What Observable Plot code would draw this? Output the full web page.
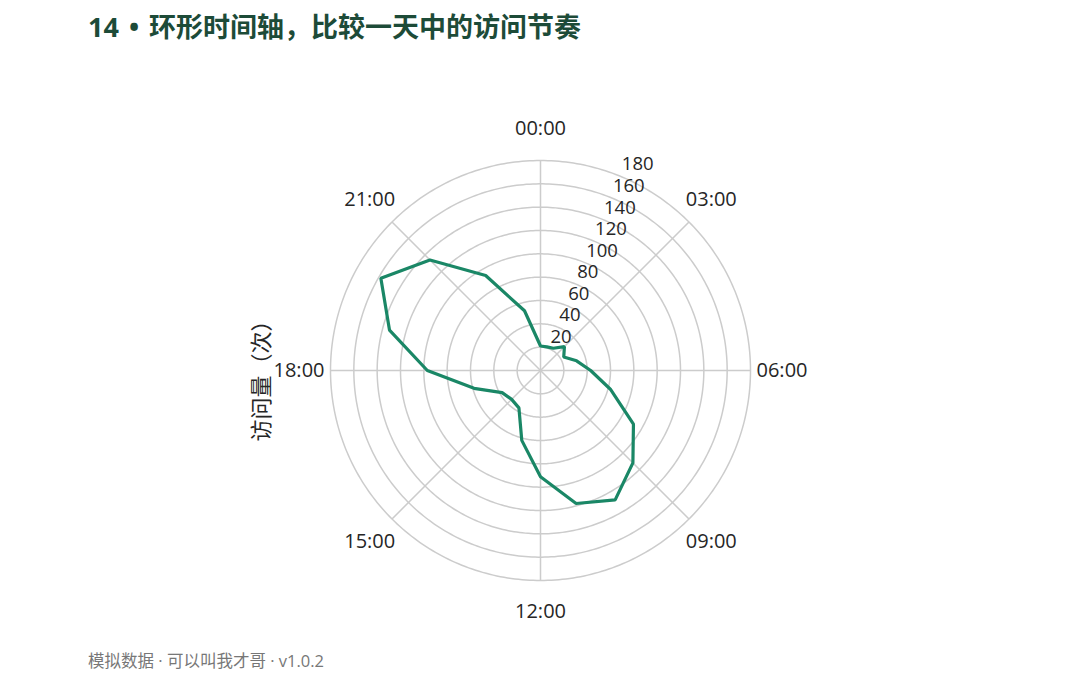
<!DOCTYPE html>
<html><head><meta charset="utf-8">
<script src="https://cdn.jsdelivr.net/npm/d3@7"></script>
<script src="https://cdn.jsdelivr.net/npm/@observablehq/plot@0.6"></script>
<style>
body{margin:0;background:#fff;font-family:"Open Sans","Noto Sans CJK SC",sans-serif;}
#title{height:60px;box-sizing:border-box;padding:12px 0 0 88px;font-size:27px;line-height:30px;font-weight:700;color:#1d4b38;font-family:"Open Sans","Noto Sans CJK SC",sans-serif;white-space:nowrap;}
#title .dot{margin:0 3px}
#chart{height:580px}
#chart svg{overflow:visible}
#foot{height:35px;box-sizing:border-box;padding:11px 0 0 88px;font-size:16.5px;line-height:20px;color:#777;font-family:"Open Sans","Noto Sans CJK SC",sans-serif;white-space:nowrap;}
</style></head>
<body>
<div id="title">14<span class="dot"> • </span>环形时间轴，比较一天中的访问节奏</div>
<div id="chart"></div>
<div id="foot">模拟数据 · 可以叫我才哥 · v1.0.2</div>
<script>
// data
const hours = [0,1,2,3,4,5,6,7,8,9,10,11,12,13,14,15,16,17,18,19,20,21,22,23];
const visits = [21,21,22,29,23,32,43,62,92,112,128,118,91,62,37,35,38,59,97,134,158,134,94,53];
const ringValues = [20,40,60,80,100,120,140,160,180];
const hourTicks = [0,3,6,9,12,15,18,21];
const hourLabels = ["00:00","03:00","06:00","09:00","12:00","15:00","18:00","21:00"];
const yLabel = "访问量（次）";

const rMax = 180;
const labelR = 207;
const rLabelAngle = 22.5;
const k = 1/3;                       // value -> degrees of colatitude
const lon = deg => 180 - deg;        // clockwise from top
const lat = v => 90 - v * k;

const data = hours.map((h, i) => ({hour: h, visits: visits[i]}));
const ticks = hourTicks.map((h, i) => ({hour: h, label: hourLabels[i]}));

const chart = Plot.plot({
  width: 1080,
  height: 580,
  marginLeft: 330, marginRight: 330, marginTop: 100, marginBottom: 60,
  projection: {
    type: "azimuthal-equidistant",
    rotate: [0, -90],
    clip: false,
    domain: d3.geoCircle().center([0, 90]).radius(rMax * k)()
  },
  style: {fontFamily: '"Open Sans","Noto Sans CJK SC",sans-serif', color: "#262626", background: "transparent", overflow: "visible"},
  marks: [
    Plot.geo(ringValues, {
      geometry: v => d3.geoCircle().center([0, 90]).radius(v * k).precision(1)(),
      stroke: "#cccccc", strokeWidth: 1.5, fill: "none"
    }),
    Plot.link(ticks, {
      x1: d => lon(d.hour * 15), y1: 90,
      x2: d => lon(d.hour * 15), y2: lat(rMax),
      stroke: "#cccccc", strokeWidth: 1.5
    }),
    Plot.text(ticks, {
      x: d => lon(d.hour * 15), y: lat(labelR),
      text: "label", fontSize: 20, fill: "#262626"
    }),
    Plot.text(ringValues, {
      x: lon(rLabelAngle), y: v => lat(v),
      text: v => String(v), textAnchor: "start", dx: 1, dy: -12,
      fontSize: 18.5, fill: "#262626"
    }),
    Plot.line(data, {
      x: d => lon(d.hour * 15), y: d => lat(d.visits),
      curve: "linear-closed", stroke: "#1a8766", strokeWidth: 3.2, strokeLinejoin: "miter"
    }),
    Plot.text([yLabel], {
      frameAnchor: "left", textAnchor: "middle", rotate: -90, dx: -69, dy: 5,
      fontSize: 22, fill: "#262626"
    })
  ]
});
document.getElementById("chart").append(chart);
</script>
</body></html>
